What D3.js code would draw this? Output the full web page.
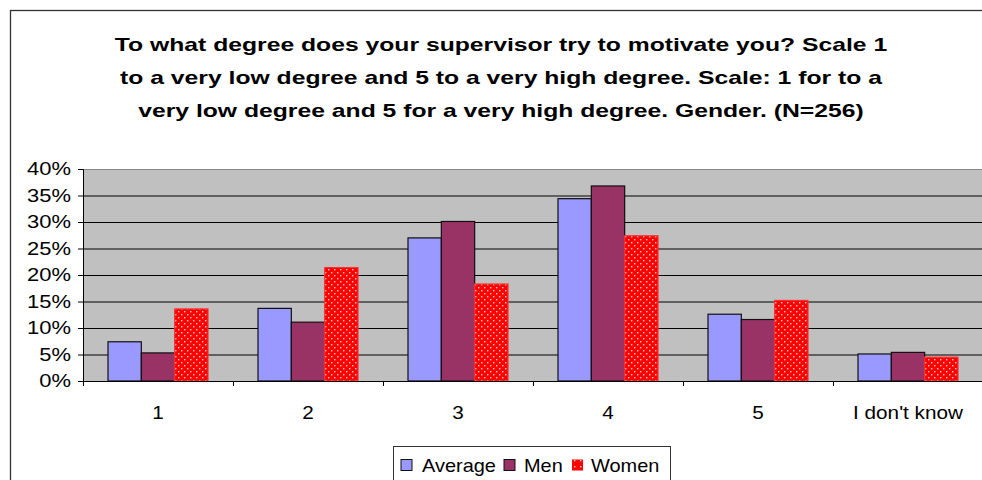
<!DOCTYPE html>
<html>
<head>
<meta charset="utf-8">
<script src="https://cdn.jsdelivr.net/npm/d3@7"></script>
<style>
  body { margin: 0; background: #fff; }
  svg { display: block; font-family: "Liberation Sans", Arial, sans-serif; }
  .axis path, .axis line { stroke: #000; }
  .grid line { stroke: #000; }
  .grid path { display: none; }
</style>
</head>
<body>
<svg width="982" height="480"></svg>
<script>
var categories = ["1", "2", "3", "4", "5", "I don't know"];
var seriesNames = ["Average", "Men", "Women"];
var average = [0.074, 0.137, 0.270, 0.344, 0.126, 0.051];
var men = [0.053, 0.111, 0.301, 0.368, 0.116, 0.054];
var women = [0.136, 0.214, 0.183, 0.274, 0.152, 0.045];
var yTicks = [0, 0.05, 0.10, 0.15, 0.20, 0.25, 0.30, 0.35, 0.40];
var titleLines = [
  "To what degree does your supervisor try to motivate you? Scale 1",
  "to a very low degree and 5 to a very high degree. Scale: 1 for to a",
  "very low degree and 5 for a very high degree. Gender. (N=256)"
];

var colors = ["#9999ff", "#993366", "url(#dots)"];
var legendColors = ["#9999ff", "#993366", "url(#dotsSmall)"];

var svg = d3.select("svg"),
    margin = {top: 169, right: -1, bottom: 99, left: 83},
    width = +svg.attr("width") - margin.left - margin.right,
    height = +svg.attr("height") - margin.top - margin.bottom;

// the original text is drawn wide, so stretch glyphs a little
var stretch = function (sel, factor) {
  sel.each(function () {
    var len = this.getComputedTextLength();
    d3.select(this)
      .attr("textLength", len * factor)
      .attr("lengthAdjust", "spacingAndGlyphs");
  });
};

var defs = svg.append("defs");
var pat = defs.append("pattern")
    .attr("id", "dots")
    .attr("patternUnits", "userSpaceOnUse")
    .attr("width", 6).attr("height", 6);
pat.append("rect").attr("width", 6).attr("height", 6).attr("fill", "#ff0000");
pat.append("rect").attr("x", 1).attr("y", 1).attr("width", 1.4).attr("height", 1.4).attr("fill", "#ffd0d0");
pat.append("rect").attr("x", 4).attr("y", 4).attr("width", 1.4).attr("height", 1.4).attr("fill", "#ffd0d0");

var pat2 = defs.append("pattern")
    .attr("id", "dotsSmall")
    .attr("patternUnits", "userSpaceOnUse")
    .attr("width", 6).attr("height", 6);
pat2.append("rect").attr("width", 6).attr("height", 6).attr("fill", "#ff0000");
pat2.append("rect").attr("x", 2).attr("y", 2).attr("width", 1.4).attr("height", 1.4).attr("fill", "#ffd0d0");

// chart border
svg.append("rect")
    .attr("x", 10.5).attr("y", 10.5)
    .attr("width", 1000).attr("height", 500)
    .attr("fill", "#fff")
    .attr("stroke", "#333")
    .attr("stroke-width", 1.3);

svg.selectAll(".title")
  .data(titleLines)
  .enter().append("text")
    .attr("class", "title")
    .attr("text-anchor", "middle")
    .attr("x", 501)
    .attr("y", function(d, i) { return 51 + i * 33; })
    .style("font-weight", "bold")
    .style("font-size", "19px")
    .text(function(d) { return d; })
    .call(stretch, 1.3);

var g = svg.append("g").attr("transform", "translate(" + margin.left + "," + margin.top + ")");

var x0 = d3.scaleBand()
    .domain(categories)
    .range([0, width])
    .paddingInner(1 / 3)
    .paddingOuter(1 / 6);

var x1 = d3.scaleBand()
    .domain(seriesNames)
    .range([0, x0.bandwidth()]);

var y = d3.scaleLinear()
    .domain([0, 0.4])
    .range([height, 0]);

var data = categories.map(function(c, i) {
  return {cat: c, values: [average[i], men[i], women[i]]};
});

g.append("rect")
    .attr("width", width)
    .attr("height", height)
    .attr("fill", "#c0c0c0");

g.append("g")
    .attr("class", "grid")
    .call(d3.axisLeft(y).tickValues(yTicks).tickSize(-width).tickFormat(""));

g.append("line")
    .attr("x1", 0).attr("x2", width)
    .attr("y1", 0.5).attr("y2", 0.5)
    .attr("stroke", "#888");

var group = g.selectAll(".group")
  .data(data)
  .enter().append("g")
    .attr("class", "group")
    .attr("transform", function(d) { return "translate(" + x0(d.cat) + ",0)"; });

group.selectAll("rect")
  .data(function(d) { return d.values.map(function(v, i) { return {key: seriesNames[i], value: v, i: i}; }); })
  .enter().append("rect")
    .attr("x", function(d) { return x1(d.key); })
    .attr("y", function(d) { return y(d.value); })
    .attr("width", x1.bandwidth())
    .attr("height", function(d) { return height - y(d.value); })
    .attr("fill", function(d) { return colors[d.i]; })
    .attr("stroke", function(d) { return d.i === 2 ? "#ff3030" : "#111"; })
    .attr("stroke-width", 1.2);

// y axis
var yAxis = g.append("g")
    .attr("class", "axis")
    .call(d3.axisLeft(y).tickValues(yTicks).tickSize(5).tickPadding(7).tickFormat(d3.format(".0%")));
yAxis.selectAll("text")
    .style("font-size", "18px")
    .attr("fill", "#000")
    .call(stretch, 1.22);

// x axis with ticks at category boundaries
var xb = d3.scaleLinear().domain([0, categories.length]).range([0, width]);
g.append("g")
    .attr("class", "axis")
    .attr("transform", "translate(0," + height + ")")
    .call(d3.axisBottom(xb).ticks(categories.length).tickSize(5).tickFormat(""));

var xAxis = g.append("g")
    .attr("class", "axis")
    .attr("transform", "translate(0," + height + ")")
    .call(d3.axisBottom(x0).tickSize(0).tickPadding(25));
xAxis.select(".domain").remove();
xAxis.selectAll("text")
    .style("font-size", "18px")
    .attr("fill", "#000")
    .call(stretch, 1.15);

// legend
var legend = svg.append("g").attr("transform", "translate(393,446)");
legend.append("rect")
    .attr("x", 0.5).attr("y", 0.5)
    .attr("width", 277).attr("height", 40)
    .attr("fill", "#fff")
    .attr("stroke", "#333");

var legendX = [8, 111, 179];
var item = legend.selectAll(".item")
  .data(seriesNames)
  .enter().append("g")
    .attr("class", "item")
    .attr("transform", function(d, i) { return "translate(" + legendX[i] + ",0)"; });
item.append("rect")
    .attr("x", 0).attr("y", 13.5)
    .attr("width", 11).attr("height", 11)
    .attr("fill", function(d, i) { return legendColors[i]; })
    .attr("stroke", function(d, i) { return i === 2 ? "none" : "#111"; });
item.append("text")
    .attr("x", function(d, i) { return i === 0 ? 21 : 20 - (i - 1); })
    .attr("y", 26)
    .style("font-size", "19px")
    .text(function(d) { return d; })
    .call(stretch, 1.05);
</script>
</body>
</html>
